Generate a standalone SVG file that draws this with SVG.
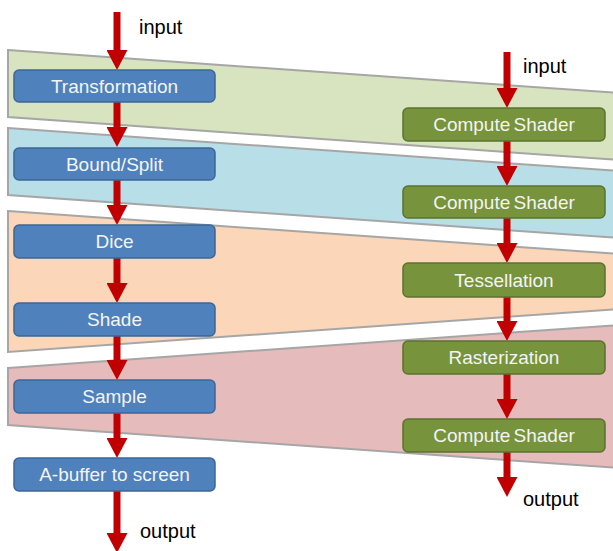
<svg xmlns="http://www.w3.org/2000/svg" width="613" height="551" viewBox="0 0 613 551">
<defs>
<style>
.band{stroke:#a6a6a6;stroke-width:2}
.b{fill:#4f81bd;stroke:#3d6796;stroke-width:1.5}
.g{fill:#77933c;stroke:#5b7330;stroke-width:1.5}
.bt{font-family:"Liberation Sans",Arial,sans-serif;font-size:19px;fill:#f4f4f4;text-anchor:middle}
.cs{word-spacing:-2px}
.lbl{font-family:"Liberation Sans",Arial,sans-serif;font-size:20px;fill:#000}
.arr{stroke:#c00000;stroke-width:7;fill:none;marker-end:url(#ah)}
</style>
<marker id="ah" markerUnits="userSpaceOnUse" markerWidth="20" markerHeight="21" viewBox="0 -10.5 20 21" refX="1" refY="0" orient="auto">
<path d="M0,-10.5 L20,0 L0,10.5 z" fill="#c00000"/>
</marker>
</defs>
<g id="bands">
<polygon class="band" points="8,50 620,93 620,160 8,117" fill="#d8e4bf"/>
<polygon class="band" points="8,128 620,171 620,238 8,195" fill="#b8dee8"/>
<polygon class="band" points="8,211 620,254 620,309 8,352" fill="#fbd6b8"/>
<polygon class="band" points="8,368 620,325 620,468 8,425" fill="#e6bbbb"/>
</g>
<g id="connectors">
<line class="arr" x1="117" y1="12" x2="117" y2="51"/>
<line class="arr" x1="117" y1="102" x2="117" y2="128"/>
<line class="arr" x1="117" y1="180" x2="117" y2="206"/>
<line class="arr" x1="117" y1="258" x2="117" y2="284"/>
<line class="arr" x1="117" y1="336" x2="117" y2="361"/>
<line class="arr" x1="117" y1="413" x2="117" y2="439"/>
<line class="arr" x1="117" y1="491" x2="117" y2="534"/>
<line class="arr" x1="507" y1="52" x2="507" y2="89"/>
<line class="arr" x1="507" y1="141" x2="507" y2="167"/>
<line class="arr" x1="507" y1="218" x2="507" y2="244"/>
<line class="arr" x1="507" y1="297" x2="507" y2="322"/>
<line class="arr" x1="507" y1="374" x2="507" y2="400"/>
<line class="arr" x1="507" y1="452" x2="507" y2="478"/>
</g>
<g id="labels">
<text class="lbl" x="139" y="34">input</text>
<text class="lbl" x="140" y="538">output</text>
<text class="lbl" x="523" y="73">input</text>
<text class="lbl" x="523" y="506">output</text>
</g>
<g id="transformation"><rect class="b" x="14" y="70" width="201" height="32" rx="5"/><text class="bt" x="114.5" y="92.5">Transformation</text></g>
<g id="bound-split"><rect class="b" x="14" y="148" width="201" height="32" rx="5"/><text class="bt" x="114.5" y="170.5">Bound/Split</text></g>
<g id="dice"><rect class="b" x="14" y="225" width="201" height="33" rx="5"/><text class="bt" x="114.5" y="248">Dice</text></g>
<g id="shade"><rect class="b" x="14" y="303" width="201" height="33" rx="5"/><text class="bt" x="114.5" y="326">Shade</text></g>
<g id="sample"><rect class="b" x="14" y="380" width="201" height="33" rx="5"/><text class="bt" x="114.5" y="403">Sample</text></g>
<g id="a-buffer"><rect class="b" x="14" y="458" width="201" height="33" rx="5"/><text class="bt" x="114.5" y="481">A-buffer to screen</text></g>
<g id="compute-shader-1"><rect class="g" x="403" y="108" width="202" height="33" rx="5"/><text class="bt cs" x="504" y="131">Compute Shader</text></g>
<g id="compute-shader-2"><rect class="g" x="403" y="186" width="202" height="32" rx="5"/><text class="bt cs" x="504" y="208.5">Compute Shader</text></g>
<g id="tessellation"><rect class="g" x="403" y="263" width="202" height="34" rx="5"/><text class="bt" x="504" y="286.5">Tessellation</text></g>
<g id="rasterization"><rect class="g" x="403" y="341" width="202" height="33" rx="5"/><text class="bt" x="504" y="364">Rasterization</text></g>
<g id="compute-shader-3"><rect class="g" x="403" y="419" width="202" height="33" rx="5"/><text class="bt cs" x="504" y="442">Compute Shader</text></g>
</svg>
